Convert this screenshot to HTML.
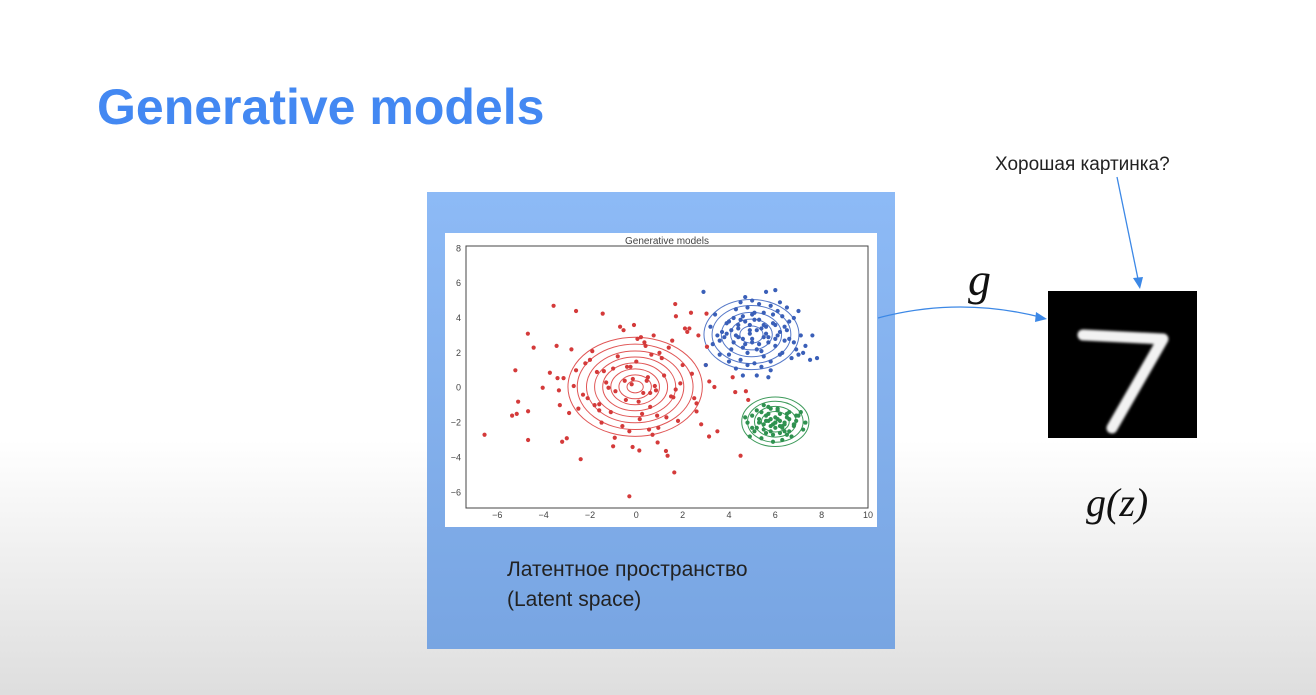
<!DOCTYPE html>
<html><head><meta charset="utf-8"><style>
html,body{margin:0;padding:0;}
body{width:1316px;height:695px;position:relative;overflow:hidden;font-family:"Liberation Sans","Noto Sans CJK JP",sans-serif;
background:linear-gradient(to bottom,#ffffff 0px,#ffffff 440px,#efefef 560px,#dedede 695px);}
.abs{position:absolute;}
</style></head><body>
<div class="abs" style="left:97px;top:78px;font-size:50px;font-weight:bold;color:#4388f2;letter-spacing:0px;">Generative models</div>
<div class="abs" style="left:427px;top:192px;width:468px;height:457px;background:linear-gradient(to bottom,#8dbaf6,#78a5e2);"></div>
<div class="abs" style="left:507px;top:555px;font-size:21px;color:#222;line-height:30px;">Латентное пространство<br>(Latent space)</div>
<svg class="abs" style="left:0;top:0" width="1316" height="695">
<rect x="445" y="233" width="432" height="294" fill="#ffffff"/>
<g id="plot"></g>
<path d="M878,318 Q960,296 1044,318" fill="none" stroke="#3c88e6" stroke-width="1.3"/>
<polygon points="1047,319 1036,312 1035,322" fill="#3c88e6"/>
<line x1="1117" y1="177" x2="1138" y2="279" stroke="#3c88e6" stroke-width="1.3"/>
<polygon points="1140,289 1133,278 1143,277" fill="#3c88e6"/>
<rect x="1048" y="291" width="149" height="147" fill="#000"/>
<polyline points="1083,335 1163,339 1112,428" fill="none" stroke="#f2f2f2" stroke-width="11" stroke-linejoin="round" stroke-linecap="round" style="filter:blur(1.2px)"/>
<text x="968" y="295" font-family="Liberation Serif,serif" font-style="italic" font-size="46" fill="#111">g</text>
<text x="1086" y="516" font-family="Liberation Serif,serif" font-style="italic" font-size="40" fill="#111">g(z)</text>
<text x="995" y="170" font-size="19" fill="#222">Хорошая картинка?</text>
</svg>
<script>
const xTicks=[-6,-4,-2,0,2,4,6,8,10];
const yTicks=[-6,-4,-2,0,2,4,6,8];
const redX=[-3.57,-2.6,-1.45,1.68,1.71,2.36,-4.68,-4.43,-3.44,-5.22,-3.73,-4.04,-3.4,-3.14,-3.34,-5.1,-5.36,-5.16,-4.67,-3.3,-2.9,-6.55,-4.67,-3.2,-2.4,-1.0,-0.93,-0.16,0.13,0.92,1.28,1.35,1.64,-0.3,3.14,3.5,4.5,3.37,3.15,4.16,4.27,4.73,4.83,2.6,3.05,3.03,2.68,2.29,
-0.2,0.3,0.5,-0.5,0.1,0.8,-0.9,1.2,-1.3,0.6,-0.4,1.5,-1.7,2.0,-2.1,2.4,-2.5,0.0,0.9,-0.8,1.8,-1.9,2.6,-2.6,0.4,-0.6,1.1,-1.1,0.2,-0.3,1.4,-1.5,2.2,-2.2,0.7,-0.7,1.7,-1.6,0.35,-0.15,0.55,0.75,-1.2,1.0,-2.8,2.8,-0.1,0.45,1.3,-1.4,2.1,-2.3,0.65,-0.45,-1.0,0.15,1.9,-1.8,0.95,-0.55,1.55,-2.0,0.25,0.85,-0.25,0.05,2.5,-2.7,-3.0,3.0,0.6,1.6,-1.6,-0.9];
const redY=[4.7,4.4,4.25,4.8,4.1,4.3,3.1,2.3,2.4,1.0,0.86,0,0.55,0.55,-0.15,-0.8,-1.6,-1.5,-1.35,-1.0,-1.45,-2.7,-3.0,-3.1,-4.1,-3.36,-2.87,-3.4,-3.6,-3.14,-3.63,-3.9,-4.86,-6.23,-2.8,-2.5,-3.9,0.04,0.36,0.6,-0.25,-0.2,-0.7,-1.36,2.35,4.25,3.0,3.4,
0.2,-0.3,0.6,0.4,-0.8,0.1,-0.2,0.7,0.3,-1.1,1.2,-0.5,0.9,1.3,-0.6,0.8,-1.2,1.5,-1.6,1.8,-1.9,2.1,-0.9,1.0,2.4,-2.2,1.7,-1.4,2.9,-2.5,2.3,-2.0,3.2,1.4,-2.7,3.5,-0.1,-1.3,2.6,0.5,-2.4,3.0,0.0,2.0,2.2,-2.1,3.6,0.4,-1.7,0.95,3.4,-0.4,1.9,-0.7,1.1,-1.8,0.25,-1.0,-2.3,3.3,2.7,1.6,-1.5,-0.15,1.2,2.8,-0.6,0.1,-2.9,1.3,-0.3,-0.55,-0.95];
const blueX=[2.9,4.7,5.6,6.0,7.0,7.6,7.8,7.5,7.2,4.6,5.2,5.7,3.0,3.4,3.2,3.6,4.0,4.3,4.5,4.8,5.0,5.3,5.5,5.8,6.1,6.3,6.5,6.8,4.1,4.4,4.9,5.1,5.4,5.9,6.2,6.6,3.8,4.2,4.6,5.0,5.3,5.7,6.0,6.4,6.9,3.9,4.3,4.7,5.2,5.6,6.1,6.5,7.1,4.0,4.5,4.8,5.1,5.5,5.8,6.2,6.7,3.7,4.2,4.6,5.0,5.4,5.9,6.3,4.4,4.9,5.3,5.7,6.0,4.1,4.7,5.2,5.6,6.4,3.5,3.9,4.5,5.0,5.5,6.0,6.6,7.3,4.3,4.8,5.4,5.8,3.3,4.0,4.6,5.1,6.8,7.0,4.9,5.5,6.2,3.6,4.4];
const blueY=[5.5,5.2,5.5,5.6,4.4,3.0,1.7,1.6,2.0,0.7,0.7,0.6,1.3,4.2,3.5,2.7,3.8,4.5,4.9,4.6,5.0,4.8,4.3,4.7,4.4,4.1,4.6,4.0,3.3,3.6,3.1,3.9,3.4,3.7,3.2,3.8,2.9,2.6,2.3,2.8,2.5,2.9,2.4,2.7,2.2,3.7,3.0,3.8,3.3,3.5,3.0,3.3,3.0,1.9,1.6,2.0,1.4,1.8,1.5,1.9,1.7,3.2,4.0,2.8,4.2,2.1,4.2,2.0,3.4,3.6,3.9,2.6,3.6,2.2,2.5,2.2,3.1,3.5,3.0,3.1,3.9,2.6,3.6,2.8,2.8,2.4,1.1,1.3,1.2,1.0,2.5,1.5,4.1,4.3,2.6,1.9,3.3,2.9,4.9,1.9,2.9];
const greenX=[4.8,5.0,5.2,5.4,5.6,5.8,6.0,6.2,6.4,6.6,6.8,7.0,7.2,5.1,5.3,5.5,5.7,5.9,6.1,6.3,6.5,6.7,6.9,5.2,5.4,5.6,5.8,6.0,6.2,6.4,6.6,6.8,5.5,5.7,5.9,6.1,6.3,6.5,5.6,5.8,6.0,6.2,6.4,5.3,5.7,6.1,6.5,6.9,5.0,5.9,6.3,4.7,7.3,5.5,6.0,6.6,5.8,6.2,7.1,4.9];
const greenY=[-2.0,-1.6,-2.3,-1.4,-2.6,-1.2,-2.0,-1.5,-2.5,-1.8,-2.2,-1.6,-2.4,-2.5,-1.8,-2.1,-1.5,-2.7,-1.3,-2.3,-1.7,-2.8,-1.9,-1.3,-2.9,-1.9,-2.2,-1.7,-2.6,-2.0,-1.4,-2.1,-2.4,-1.9,-2.1,-1.8,-2.2,-1.5,-1.6,-2.5,-2.3,-1.9,-2.1,-2.0,-1.1,-1.2,-2.7,-1.6,-2.3,-3.1,-3.0,-1.7,-2.0,-1.0,-2.0,-2.5,-1.8,-2.2,-1.4,-2.8];
const redContour=[0.35,0.7,1.05,1.4,1.75,2.1,2.5,2.9];
const blueContour=[0.5,0.9,1.3,1.7,2.05];
const greenContour=[0.6,0.9,1.2,1.45];
const NS='http://www.w3.org/2000/svg';
const L=466,R=868,T=246,B=508,XMIN=-7.35,XMAX=10,YMIN=-6.9,YMAX=8.13;
function sx(v){return L+(v-XMIN)/(XMAX-XMIN)*(R-L);}
function sy(v){return B-(v-YMIN)/(YMAX-YMIN)*(B-T);}
const g=document.getElementById('plot');
function mk(tag,attrs){const e=document.createElementNS(NS,tag);for(const k in attrs)e.setAttribute(k,attrs[k]);g.appendChild(e);return e;}
function ellipses(cx,cy,rs,col,name){rs.forEach(r=>{const e=mk('ellipse',{cx:sx(cx),cy:sy(cy),rx:sx(cx+r)-sx(cx),ry:sy(cy)-sy(cy+r*0.98),fill:'none',stroke:col,'stroke-width':1});

});}
function pts(xs,ys,col,name){xs.forEach((x,i)=>{if(ys[i]===undefined)return;const c=mk('circle',{cx:sx(x),cy:sy(ys[i]),r:2.1,fill:col});

});}
ellipses(-0.05,0.05,redContour,'#e05555','red-contour');
ellipses(4.97,3.05,blueContour,'#5578c8','blue-contour');
ellipses(6.0,-1.95,greenContour,'#3d9a5a','green-contour');
pts(redX,redY,'#d43a3a','red-point');
pts(blueX,blueY,'#3a5fb8','blue-point');
pts(greenX,greenY,'#2f9150','green-point');
const fr=mk('rect',{x:L,y:T,width:R-L,height:B-T,fill:'none',stroke:'#444','stroke-width':1});


const tt=mk('text',{x:(L+R)/2,y:T-2,'text-anchor':'middle','font-size':10,fill:'#444','font-family':'Liberation Sans,sans-serif'});
tt.textContent='Generative models';


xTicks.forEach(v=>{const t=mk('text',{x:sx(v),y:B+10,'text-anchor':'middle','font-size':9,fill:'#444','font-family':'Liberation Sans,sans-serif'});t.textContent=(v<0?'\u2212'+(-v):v);

});
yTicks.forEach(v=>{const t=mk('text',{x:L-5,y:sy(v)+3,'text-anchor':'end','font-size':9,fill:'#444','font-family':'Liberation Sans,sans-serif'});t.textContent=(v<0?'\u2212'+(-v):v);

});
</script>
</body></html>
